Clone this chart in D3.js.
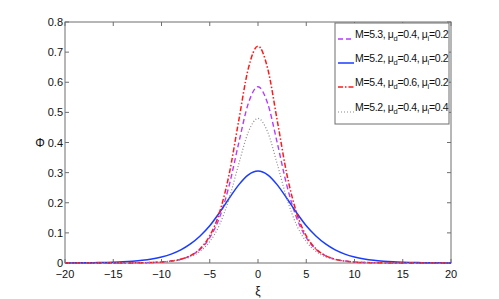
<!DOCTYPE html>
<html>
<head>
<meta charset="utf-8">
<script src="https://cdn.jsdelivr.net/npm/d3@7"></script>
<style>
  body { margin: 0; background: #fff; }
  text { font-family: "Liberation Sans", Arial, sans-serif; }
</style>
</head>
<body>
<svg id="grafico" width="499" height="299"></svg>
<script>
const xi = d3.range(-20, 21, 1);

// values, symmetric about xi = 0
const phiPurple = [0.0000,0.0000,0.0000,0.0000,0.0000,0.0001,0.0003,0.0005,0.0010,0.0018,0.0035,0.0066,0.0126,0.0240,0.0453,0.0839,0.150,0.256,0.398,0.530,
  0.585,
  0.530,0.398,0.256,0.150,0.0839,0.0453,0.0240,0.0126,0.0066,0.0035,0.0018,0.0010,0.0005,0.0003,0.0001,0.0000,0.0000,0.0000,0.0000,0.0000];
const phiBlue = [0.0003,0.0005,0.0008,0.0012,0.0018,0.0027,0.0040,0.0060,0.0089,0.0134,0.0199,0.0294,0.0434,0.0632,0.0896,0.1235,0.1669,0.2141,0.2594,0.2927,
  0.305,
  0.2927,0.2594,0.2141,0.1669,0.1235,0.0896,0.0632,0.0434,0.0294,0.0199,0.0134,0.0089,0.0060,0.0040,0.0027,0.0018,0.0012,0.0008,0.0005,0.0003];
const phiRed = [0.0000,0.0000,0.0000,0.0000,0.0001,0.0001,0.0002,0.0004,0.0008,0.0016,0.0032,0.0063,0.0124,0.0243,0.0470,0.0902,0.1666,0.2930,0.472,0.646,
  0.72,
  0.646,0.472,0.2930,0.1666,0.0902,0.0470,0.0243,0.0124,0.0063,0.0032,0.0016,0.0008,0.0004,0.0002,0.0001,0.0001,0.0000,0.0000,0.0000,0.0000];
const phiGray = [0.0000,0.0000,0.0000,0.0000,0.0000,0.0001,0.0002,0.0004,0.0008,0.0016,0.0030,0.0057,0.0109,0.0206,0.0386,0.0709,0.1259,0.2130,0.328,0.435,
  0.48,
  0.435,0.328,0.2130,0.1259,0.0709,0.0386,0.0206,0.0109,0.0057,0.0030,0.0016,0.0008,0.0004,0.0002,0.0001,0.0000,0.0000,0.0000,0.0000,0.0000];

const legendM  = ["5.3", "5.2", "5.4", "5.2"];
const legendMd = ["0.4", "0.4", "0.6", "0.4"];
const legendMi = ["0.2", "0.2", "0.2", "0.4"];

const xTicks = d3.range(-20, 21, 5);
const yTicks = d3.range(0, 0.81, 0.1);

const series = [
  {y: phiPurple, color: "#b33dff", dash: "5,3", width: 1.4},
  {y: phiBlue,   color: "#1a3cff", dash: null,  width: 1.5},
  {y: phiRed,    color: "#ff1a1a", dash: "5,2,1.5,2", width: 1.5},
  {y: phiGray,   color: "#8a8a8a", dash: "1,2", width: 1.2}
];

const svg = d3.select("#grafico");
const mLeft = 65, mRight = 451, mTop = 22, mBottom = 263;
const x = d3.scaleLinear().domain([-20, 20]).range([mLeft, mRight]);
const y = d3.scaleLinear().domain([0, 0.8]).range([mBottom, mTop]);
const axisColor = "#6e6e6e";
const tickLen = 4;

// frame
svg.append("rect")
  .attr("x", mLeft).attr("y", mTop)
  .attr("width", mRight - mLeft).attr("height", mBottom - mTop)
  .attr("fill", "none").attr("stroke", axisColor).attr("stroke-width", 1);

// ticks (inward, on all four sides)
xTicks.forEach(t => {
  svg.append("line").attr("x1", x(t)).attr("x2", x(t))
    .attr("y1", mBottom).attr("y2", mBottom - tickLen)
    .attr("stroke", axisColor);
  svg.append("line").attr("x1", x(t)).attr("x2", x(t))
    .attr("y1", mTop).attr("y2", mTop + tickLen)
    .attr("stroke", axisColor);
});
yTicks.forEach(t => {
  svg.append("line").attr("x1", mLeft).attr("x2", mLeft + tickLen)
    .attr("y1", y(t)).attr("y2", y(t)).attr("stroke", axisColor);
  svg.append("line").attr("x1", mRight).attr("x2", mRight - tickLen)
    .attr("y1", y(t)).attr("y2", y(t)).attr("stroke", axisColor);
});

// curves
const line = d3.line()
  .x((d, i) => x(xi[i]))
  .y(d => y(d))
  .curve(d3.curveMonotoneX);

series.forEach(s => {
  svg.append("path")
    .attr("d", line(s.y))
    .attr("fill", "none")
    .attr("stroke", s.color)
    .attr("stroke-width", s.width)
    .attr("stroke-dasharray", s.dash);
});

// tick labels
svg.selectAll(".xl").data(xTicks).enter().append("text")
  .attr("x", d => x(d)).attr("y", 278)
  .attr("text-anchor", "middle")
  .style("font-size", "11px").attr("fill", "#111")
  .text(d => d < 0 ? "\u2212" + Math.abs(d) : d);

svg.selectAll(".yl").data(yTicks).enter().append("text")
  .attr("x", mLeft - 2).attr("y", d => y(d) + 4)
  .attr("text-anchor", "end")
  .style("font-size", "11px").attr("fill", "#111")
  .text(d => d === 0 ? "0" : d3.format(".1f")(d));

// axis labels
svg.append("text").attr("x", x(0)).attr("y", 295)
  .attr("text-anchor", "middle").style("font-size", "12px").attr("fill", "#111")
  .text("\u03be");
svg.append("text").attr("x", 40).attr("y", y(0.4) + 4)
  .attr("text-anchor", "middle").style("font-size", "12px").attr("fill", "#111")
  .text("\u03a6");

// legend
const lg = svg.append("g");
lg.append("rect").attr("x", 335).attr("y", 23).attr("width", 114).attr("height", 101)
  .attr("fill", "#fff").attr("stroke", axisColor);
const rowY = [39, 63, 87, 112];
series.forEach((s, i) => {
  lg.append("line").attr("x1", 338).attr("x2", 354)
    .attr("y1", rowY[i]).attr("y2", rowY[i])
    .attr("stroke", s.color).attr("stroke-width", s.width)
    .attr("stroke-dasharray", s.dash);
  const t = lg.append("text").attr("x", 355).attr("y", rowY[i] - 1)
    .style("font-size", "10.5px").style("letter-spacing", "-0.35px").attr("fill", "#111");
  t.append("tspan").text(`M=${legendM[i]}, \u03bc`);
  t.append("tspan").attr("dy", 3).style("font-size", "7.5px").text("d");
  t.append("tspan").attr("dy", -3).text(`=${legendMd[i]}, \u03bc`);
  t.append("tspan").attr("dy", 3).style("font-size", "7.5px").text("i");
  t.append("tspan").attr("dy", -3).text(`=${legendMi[i]}`);
});
</script>
</body>
</html>
